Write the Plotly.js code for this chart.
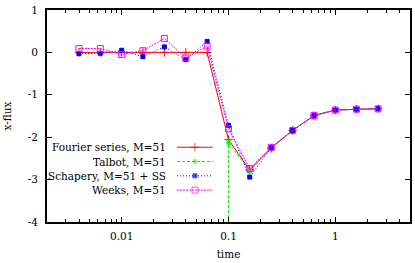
<!DOCTYPE html>
<html>
<head>
<meta charset="utf-8">
<script src="https://cdn.plot.ly/plotly-3.0.1.min.js"></script>
<style>html,body{margin:0;padding:0;background:#fff}#chart{width:415px;height:263px}</style>
</head>
<body>
<div id="chart"></div>
<script>
// ---- data ----
var time = [0.00398, 0.00631, 0.01, 0.0158, 0.0251, 0.0398, 0.0631, 0.1, 0.158, 0.251, 0.398, 0.631, 1, 1.58, 2.51];
var fourier  = [0, 0, 0, 0, 0, 0, 0, -2.06, -2.77, -2.26, -1.84, -1.49, -1.36, -1.34, -1.33];
var talbot   = [null, null, null, null, null, null, -10000, -2.13, -2.80, -2.26, -1.84, -1.49, -1.36, -1.34, -1.33];
var schapery = [-0.03, -0.02, 0.05, -0.10, 0.13, -0.17, 0.26, -1.72, -2.94, -2.25, -1.84, -1.49, -1.36, -1.34, -1.33];
var weeks    = [0.09, 0.09, -0.05, 0.04, 0.33, -0.13, 0.15, -1.80, -2.74, -2.24, -1.84, -1.49, -1.36, -1.34, -1.33];
var seriesNames = ["Fourier series, M=51", "Talbot, M=51", "Schapery, M=51 + SS", "Weeks, M=51"];
var xTickVals = [0.01, 0.1, 1];
var xTickText = ["0.01", "0.1", "1"];
var yTickVals = [-4, -3, -2, -1, 0, 1];
var yTickText = ["-4", "-3", "-2", "-1", "0", "1"];

// ---- styles ----
var styles = [
  {color: "#ff0000", dash: "solid",   symbol: "cross-thin-open", size: 6},
  {color: "#00ee00", dash: "3px,2px", symbol: "asterisk-open",   size: 5},
  {color: "#0000ff", dash: "1px,2px", symbol: "square",          size: 4},
  {color: "#ff00ff", dash: "2px,1px", symbol: "square-open",     size: 6}
];
var allY = [fourier, talbot, schapery, weeks];
var font = "DejaVu Serif";
var fs = 10.5;

var traces = [];
allY.forEach(function (ys, i) {
  var s = styles[i];
  traces.push({
    x: time, y: ys, type: "scatter", mode: "lines+markers",
    connectgaps: false, showlegend: false,
    line: {color: s.color, width: 1, dash: s.dash},
    marker: {symbol: s.symbol, size: s.size, color: s.color, line: {color: s.color, width: 1}}
  });
});
// legend samples (key on the right of the text, gnuplot style)
allY.forEach(function (ys, i) {
  var s = styles[i];
  traces.push({
    x: [0, 0.5, 1], y: [i, i, i], xaxis: "x2", yaxis: "y2",
    type: "scatter", mode: "lines+markers", showlegend: false, hoverinfo: "skip",
    line: {color: s.color, width: 1, dash: s.dash},
    marker: {symbol: s.symbol, size: [0, s.size, 0], color: s.color, line: {color: s.color, width: 1}}
  });
});

var minorVals = [];
[0.001, 0.01, 0.1, 1].forEach(function (d) {
  for (var k = 2; k <= 9; k++) minorVals.push(d * k);
});

var annotations = seriesNames.map(function (n, i) {
  return {text: n, xref: "paper", yref: "y2", x: 0.333, y: i, xanchor: "right", yanchor: "middle",
          showarrow: false, font: {family: font, size: fs, color: "#000"}};
});

var layout = {
  width: 415, height: 263,
  margin: {l: 47, r: 5, t: 10, b: 41},
  paper_bgcolor: "#fff", plot_bgcolor: "rgba(0,0,0,0)",
  font: {family: font, size: fs, color: "#000"},
  showlegend: false,
  xaxis: {
    type: "log", range: [Math.log10(0.002), Math.log10(5)],
    tickvals: xTickVals, ticktext: xTickText,
    ticks: "inside", ticklen: 5, tickwidth: 1, tickcolor: "#000",
    showline: true, linewidth: 2, linecolor: "#000", mirror: "allticks",
    showgrid: false, zeroline: false,
    minor: {tickvals: minorVals, ticks: "inside", ticklen: 3, tickwidth: 1, tickcolor: "#000", showgrid: false},
    tickfont: {family: font, size: fs},
    ticklabelstandoff: 3,
    title: {text: "time", font: {family: font, size: fs}, standoff: 10}
  },
  yaxis: {
    range: [-4, 1],
    tickvals: yTickVals, ticktext: yTickText,
    ticks: "inside", ticklen: 5, tickwidth: 1, tickcolor: "#000",
    showline: true, linewidth: 2, linecolor: "#000", mirror: "allticks",
    showgrid: false, zeroline: false,
    tickfont: {family: font, size: fs},
    ticklabelstandoff: 5,
    title: {text: "x-flux", font: {family: font, size: fs}, standoff: 14}
  },
  xaxis2: {domain: [0.358, 0.457], range: [0, 1], visible: false, anchor: "y2", fixedrange: true},
  yaxis2: {domain: [0, 1], range: [5.23, -9.6], visible: false, anchor: "x2", overlaying: "y", fixedrange: true},
  annotations: annotations
};

Plotly.newPlot("chart", traces, layout, {staticPlot: true, displayModeBar: false});
</script>
</body>
</html>
